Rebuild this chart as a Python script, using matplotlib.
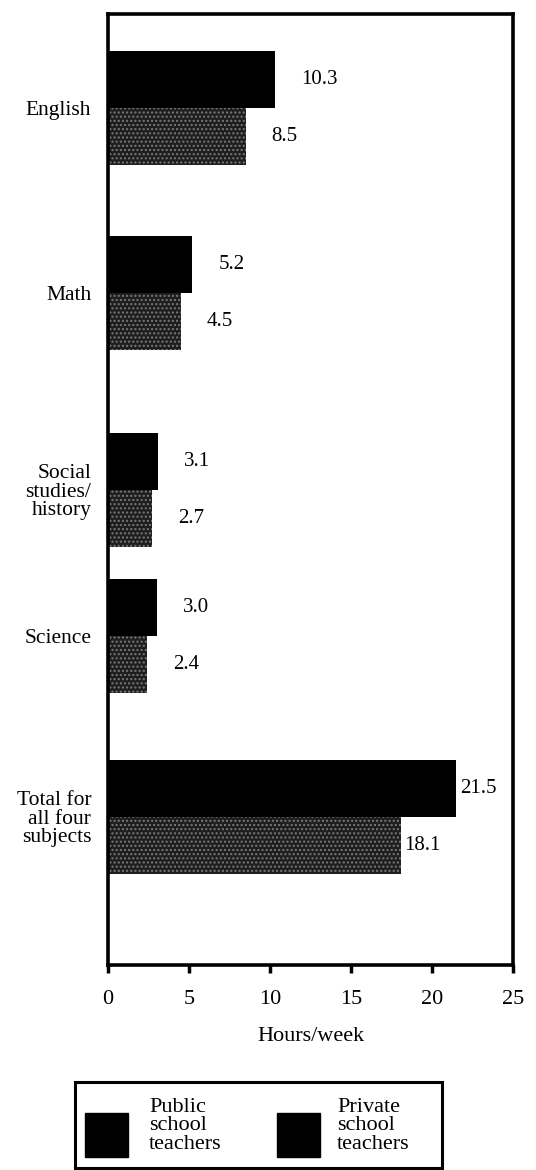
import numpy as np
from matplotlib import pyplot as plt
from matplotlib.patches import Rectangle

# data
subjects = ['English', 'Math', 'Social\nstudies/\nhistory', 'Science',
            'Total for\nall four\nsubjects']
public_hours = [10.3, 5.2, 3.1, 3.0, 21.5]
private_hours = [8.5, 4.5, 2.7, 2.4, 18.1]
x_ticks = [0, 5, 10, 15, 20, 25]
legend_labels = ['Public\nschool\nteachers', 'Private\nschool\nteachers']

plt.rcParams['font.family'] = ['Liberation Serif', 'DejaVu Serif']

W, H = 536, 1170
fig = plt.figure(figsize=(W / 100, H / 100), dpi=100)
ax = fig.add_axes([0.2015, 0.1752, 0.756, 0.8128])

# group positions are a bit uneven in the original layout
y = np.array([0, 1.044, 2.155, 2.979, 4.0])
h = 0.32
ax.barh(y - h / 2, public_hours, height=h, color='black')
ax.barh(y + h / 2, private_hours, height=h, color='#1e1e1e',
        edgecolor='#7a7a7a', linewidth=0, hatch='....')

# value labels
for i in range(len(subjects)):
    off = 0.2 if i == len(subjects) - 1 else 1.6
    ax.text(public_hours[i] + off, y[i] - h / 2, f'{public_hours[i]:.1f}',
            va='center', ha='left', fontsize=15)
    ax.text(private_hours[i] + off, y[i] + h / 2, f'{private_hours[i]:.1f}',
            va='center', ha='left', fontsize=15)

ax.set_xlim(0, 25)
ax.set_ylim(4.835, -0.53)
ax.set_yticks(y)
ax.set_yticklabels(subjects, fontsize=15.5, linespacing=0.95)
ax.tick_params(axis='y', length=0, pad=12)
ax.set_xticks(x_ticks)
ax.tick_params(axis='x', direction='out', length=6, width=2.5,
               labelsize=16, pad=12)
ax.set_xlabel('Hours/week', fontsize=16, labelpad=13)
for s in ax.spines.values():
    s.set_linewidth(2.6)

# legend box drawn in figure pixels
def fx(px):
    return px / W

def fy(py):
    return 1 - py / H

fig.patches.append(Rectangle((fx(75), fy(1168)), fx(442) - fx(75),
                             fy(1082) - fy(1168), transform=fig.transFigure,
                             facecolor='none', edgecolor='black', linewidth=2.2))
for px, tx, lab in [(85, 149, legend_labels[0]), (277, 337, legend_labels[1])]:
    fig.patches.append(Rectangle((fx(px), fy(1157)), fx(43), 44 / H,
                                 transform=fig.transFigure, color='black'))
    fig.text(fx(tx), fy(1126), lab, ha='left', va='center', fontsize=16,
             linespacing=0.95)

plt.savefig('out.png', dpi=100)
